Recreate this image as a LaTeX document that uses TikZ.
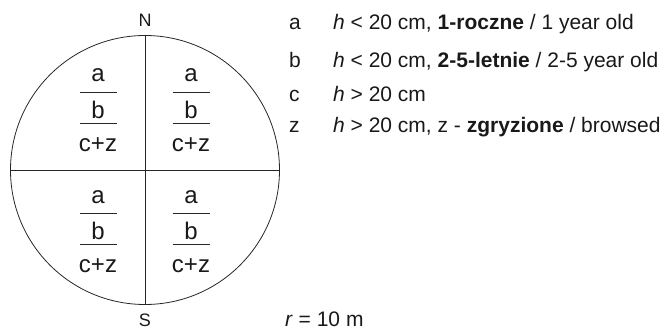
\documentclass[tikz,border=0pt]{standalone}
\usepackage{fontspec}
\setmainfont{Liberation Sans}
\usetikzlibrary{positioning,calc}

\begin{document}
\begin{tikzpicture}[x=1pt,y=-1pt,
  ink/.style={draw=black!85,line width=0.8pt},
  dir/.style={font=\fontsize{18}{18}\selectfont,text=black!90,inner sep=0pt,anchor=base},
  frac/.style={font=\fontsize{24}{24}\selectfont,text=black!90,inner sep=0pt,anchor=base},
  key/.style={font=\fontsize{21}{21}\selectfont,text=black!90,inner sep=0pt,anchor=base west}]
\useasboundingbox (0,0) rectangle (662,329);
% plot circle with the four quarters
\node[circle,ink,minimum size=269pt,inner sep=0pt] (plot) at (145,170) {};
\draw[ink] (plot.north) -- (plot.south);
\draw[ink] (plot.west) -- (plot.east);
\node[dir] (N) at (145,27) {N};
\node[dir] (S) at (145,326) {S};
\foreach \qx/\qy/\q in {98/82/nw,191/82/ne,98/203/sw,191/203/se}{
  \node[frac] (\q-a) at (\qx,\qy) {a};
  \node[frac] (\q-b) at (\qx,\qy+36.5) {b};
  \node[frac] (\q-cz) at (\qx,\qy+69.5) {c+z};
  \draw[ink,line width=0.7pt] (\qx-18.5,\qy+10.5) -- (\qx+18.5,\qy+10.5);
  \draw[ink,line width=0.7pt] (\qx-18.5,\qy+41.5) -- (\qx+18.5,\qy+41.5);
}
% legend
\node[key] (ka) at (289,29.5) {a};
\node[key] (kb) at (289,68) {b};
\node[key] (kc) at (289,102) {c};
\node[key] (kz) at (289,132) {z};
\node[key] (ta) at (333,29.5) {\textit{h} < 20 cm, \textbf{1-roczne} / 1 year old};
\node[key] (tb) at (333,68) {\textit{h} < 20 cm, \textbf{2-5-letnie} / 2-5 year old};
\node[key] (tc) at (333,102) {\textit{h} > 20 cm};
\node[key] (tz) at (333,132) {\textit{h} > 20 cm, z - \textbf{zgryzione} / browsed};
\node[key] (radius) at (285,326) {\textit{r} = 10 m};
\end{tikzpicture}
\end{document}
